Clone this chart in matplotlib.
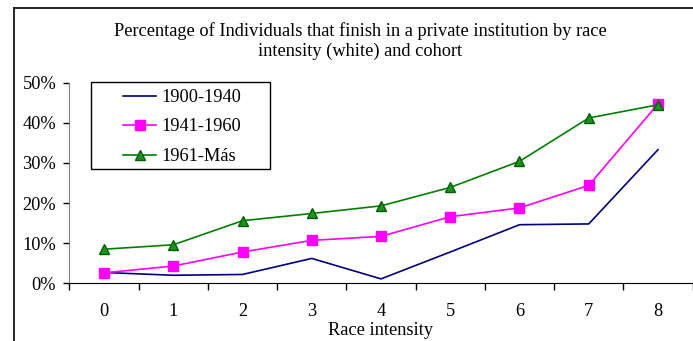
import matplotlib.pyplot as plt
from matplotlib.lines import Line2D
from matplotlib.patches import Rectangle
from matplotlib.ticker import PercentFormatter

# --- data ---
race_intensity = [0, 1, 2, 3, 4, 5, 6, 7, 8]
cohort_1900_1940 = [2.7, 2.0, 2.2, 6.2, 1.1, 7.8, 14.6, 14.8, 33.3]
cohort_1941_1960 = [2.6, 4.3, 7.8, 10.7, 11.7, 16.6, 18.8, 24.4, 44.7]
cohort_1961_mas = [8.5, 9.6, 15.6, 17.4, 19.3, 23.9, 30.4, 41.2, 44.5]
labels = ['1900-1940', '1941-1960', '1961-Más']

plt.rcParams['font.family'] = ['Liberation Serif', 'DejaVu Serif']
FS = 13.2

W, H = 693, 341
fig = plt.figure(figsize=(W / 100, H / 100), dpi=100)

# outer frame (left and top edges visible)
fig.add_artist(Line2D([14 / W, 14 / W], [0, 1 - 8 / H], transform=fig.transFigure, color='black', lw=1.2))
fig.add_artist(Line2D([14 / W, 1], [1 - 8 / H, 1 - 8 / H], transform=fig.transFigure, color='black', lw=1.2))

left, right = 69.4 / W, 692.6 / W
bottom, top = (H - 283.3) / H, (H - 82.7) / H
ax = fig.add_axes([left, bottom, right - left, top - bottom])

ax.plot(race_intensity, cohort_1900_1940, color='#000080', lw=1.2, label=labels[0])
ax.plot(race_intensity, cohort_1941_1960, color='#ff00ff', lw=1.2, marker='s',
        markersize=6.5, markerfacecolor='#ff00ff', markeredgecolor='#ff00ff', label=labels[1])
ax.plot(race_intensity, cohort_1961_mas, color='#008000', lw=1.2, marker='^',
        markersize=7, markerfacecolor='#1f8f1f', markeredgecolor='#006000', label=labels[2])

ax.set_xlim(-0.5, 8.5)
ax.set_ylim(0, 50)
ax.set_yticks([0, 10, 20, 30, 40, 50])
ax.yaxis.set_major_formatter(PercentFormatter(decimals=0))
ax.set_xticks(race_intensity)
ax.set_xticks([x + 0.5 for x in [-1] + race_intensity], minor=True)
ax.tick_params(axis='x', which='major', length=0, pad=14, labelsize=FS)
ax.tick_params(axis='x', which='minor', length=5, width=1)
ax.tick_params(axis='y', length=4.5, width=1, labelsize=FS, pad=5)

for side in ['top', 'right']:
    ax.spines[side].set_visible(False)
ax.spines['left'].set_color('#808080')
ax.spines['bottom'].set_color('black')

ax.set_xlabel('Race intensity', fontsize=FS, labelpad=1.5)
fig.text(360 / W, 1 - 41 / H,
         'Percentage of Individuals that finish in a private institution by race\nintensity (white) and cohort',
         ha='center', va='center', fontsize=FS, linespacing=1.2)

# legend box drawn separately so the padding matches the reference
fig.add_artist(Rectangle((91 / W, 1 - 169 / H), (270 - 91) / W, (169 - 82) / H,
                         transform=fig.transFigure, fill=False, edgecolor='black', lw=1.0))
leg = fig.legend(loc='upper left', bbox_to_anchor=(123 / W, 1 - 89 / H),
                 fontsize=FS, frameon=False, handlelength=1.8, borderpad=0,
                 labelspacing=0.68, handletextpad=0.3, borderaxespad=0)

fig.savefig('out.png', dpi=100)
